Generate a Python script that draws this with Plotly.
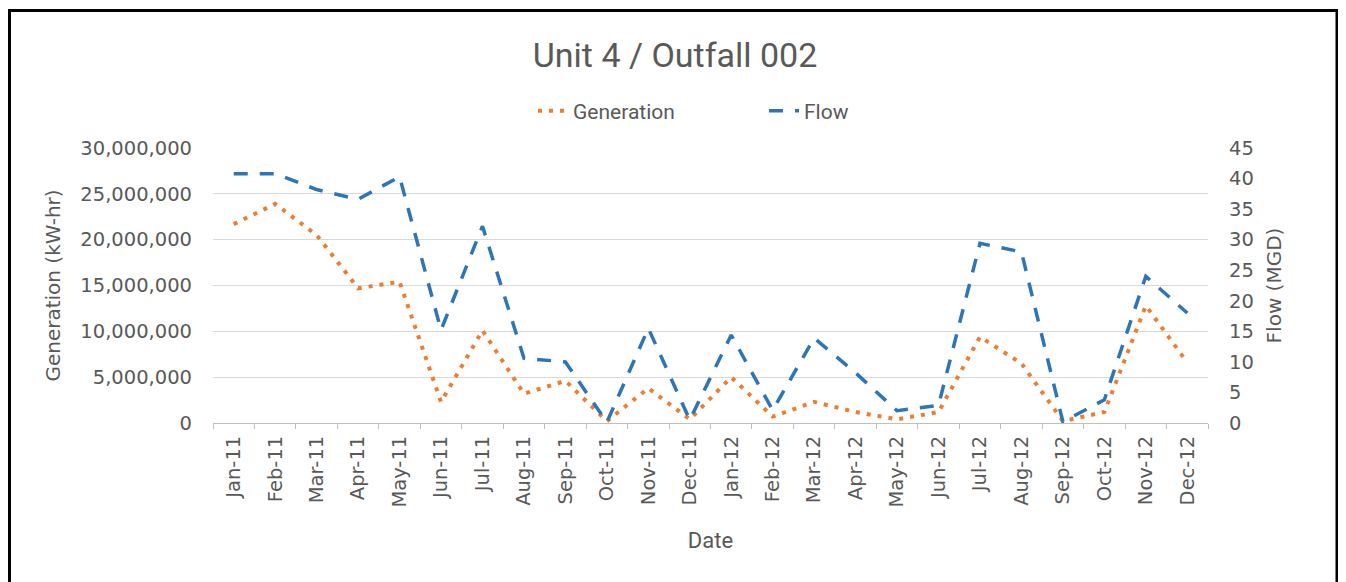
import plotly.graph_objects as go

months = ["Jan-11", "Feb-11", "Mar-11", "Apr-11", "May-11", "Jun-11", "Jul-11", "Aug-11",
          "Sep-11", "Oct-11", "Nov-11", "Dec-11", "Jan-12", "Feb-12", "Mar-12", "Apr-12",
          "May-12", "Jun-12", "Jul-12", "Aug-12", "Sep-12", "Oct-12", "Nov-12", "Dec-12"]

generation = [21700000, 23900000, 20500000, 14700000, 15400000, 2300000, 10100000, 3200000,
              4600000, 200000, 3800000, 400000, 5000000, 700000, 2300000, 1200000,
              400000, 1200000, 9400000, 6500000, 200000, 1200000, 12800000, 6600000]

flow = [40.8, 40.8, 38.2, 36.6, 40.3, 15.2, 32.2, 10.6,
        10.0, 0.1, 15.5, 0.5, 14.4, 2.1, 13.9, 8.2,
        2.0, 2.9, 29.4, 28.0, 0.2, 3.8, 24.0, 18.0]

left_ticks = [0, 5000000, 10000000, 15000000, 20000000, 25000000, 30000000]
right_ticks = [0, 5, 10, 15, 20, 25, 30, 35, 40, 45]

# the page body has an 8px margin; work in screen pixels and shift
OFF = 8
W, H = 1346 - OFF, 582 - OFF
L, R, T, B = 213 - OFF, 1346 - 1208, 148 - OFF, 582 - 423
pw, ph = W - L - R, H - T - B


def px(x):
    return (x - OFF - L) / pw


def py(y):
    return (H - B - (y - OFF)) / ph


gray = "#595959"
narrow = "Roboto, Open Sans"
tickfont = dict(family="DejaVu Sans", size=19.5, color=gray)

fig = go.Figure()
fig.add_trace(go.Scatter(
    x=months, y=generation, name="Generation", mode="lines",
    line=dict(color="#ED7D31", width=4, dash="4px,7px"), yaxis="y"))
fig.add_trace(go.Scatter(
    x=months, y=flow, name="Flow", mode="lines",
    line=dict(color="#2E75B6", width=3.5, dash="14px,12px"), yaxis="y2"))

fig.update_layout(
    width=W, height=H,
    margin=dict(l=L, r=R, t=T, b=B, autoexpand=False),
    paper_bgcolor="white", plot_bgcolor="white",
    title=dict(text="Unit 4 / Outfall 002", x=px(675), xref="paper", xanchor="center",
               y=1 - (55 - OFF) / H, yanchor="middle",
               font=dict(family=narrow, size=34, color=gray)),
    legend=dict(orientation="h", x=px(533), xanchor="left", y=py(111), yanchor="middle",
                font=dict(family=narrow, size=21, color=gray), bgcolor="rgba(0,0,0,0)",
                entrywidth=186, entrywidthmode="pixels"),
    showlegend=True,
    xaxis=dict(type="category", tickangle=-90, tickfont=tickfont, range=[-0.5, 23.5],
               showline=True, linecolor="#BFBFBF", linewidth=1,
               ticks="outside", tickson="boundaries", ticklen=5, tickcolor="#BFBFBF",
               showgrid=False, ticklabelstandoff=4,
               title=dict(text="Date", font=dict(family=narrow, size=22, color=gray), standoff=25)),
    yaxis=dict(range=[0, 30000000], tickvals=left_ticks, tickformat=",",
               tickfont=tickfont, showgrid=True, gridcolor="#D9D9D9", gridwidth=1,
               zeroline=False, showline=False, ticks="", ticklabelstandoff=20,
               title=dict(text="Generation (kW-hr)", font=dict(family="DejaVu Sans", size=20, color=gray),
                          standoff=14)),
    yaxis2=dict(range=[0, 45], tickvals=right_ticks, overlaying="y", side="right",
                tickfont=tickfont, showgrid=False, zeroline=False, showline=False, ticks="",
                ticklabelstandoff=20,
                title=dict(text="Flow (MGD)", font=dict(family="DejaVu Sans", size=20, color=gray),
                           standoff=14)),
    shapes=[dict(type="rect", xref="paper", yref="paper",
                 x0=px(9.5), x1=px(1337), y0=py(620), y1=py(10.5),
                 line=dict(color="black", width=3), fillcolor="rgba(0,0,0,0)", layer="above")],
)

fig.write_html("out.html")
